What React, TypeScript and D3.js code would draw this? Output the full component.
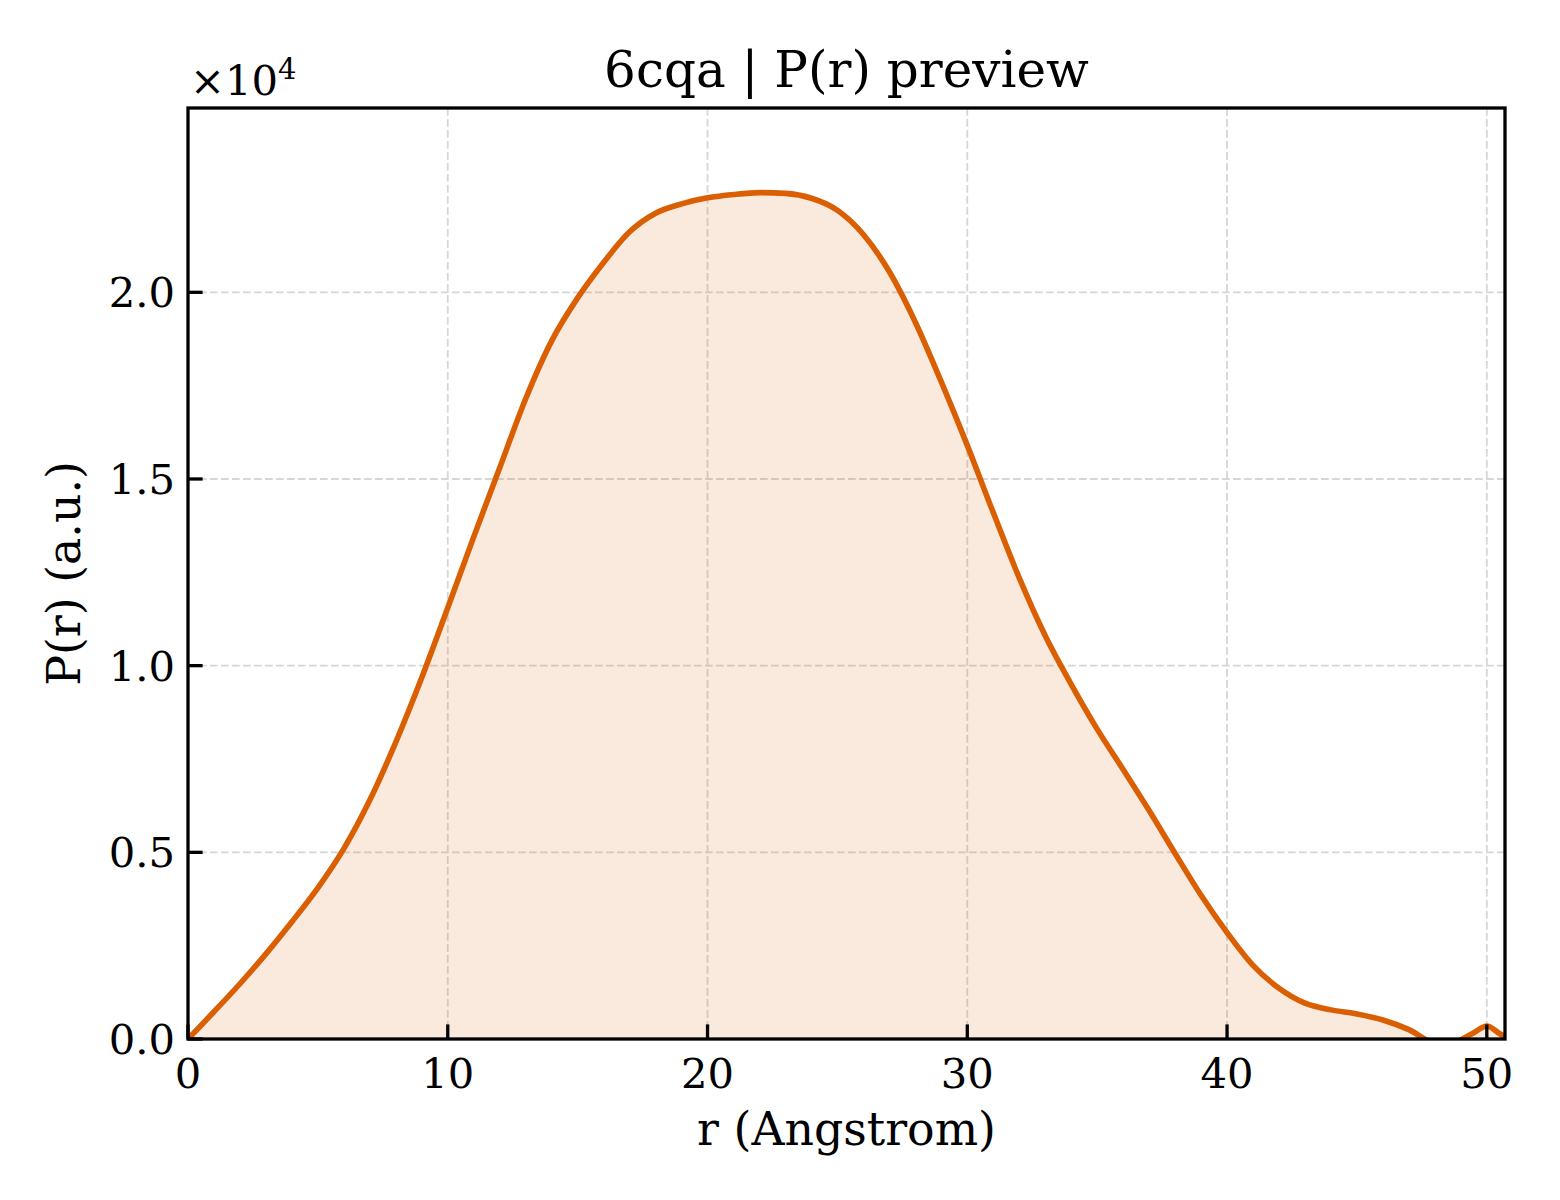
import React from 'react'
import * as d3 from 'd3'

const rValues = [
  0, 1, 2, 3, 4, 5, 6, 7, 8, 9, 10, 11, 12, 13, 14, 15, 16, 17, 18, 19, 20,
  21, 22, 23, 24, 25, 26, 27, 28, 29, 30, 31, 32, 33, 34, 35, 36, 37, 38, 39,
  40, 41, 42, 43, 44, 45, 46, 47, 48, 48.5, 49, 49.5, 50, 50.5, 50.7,
]
const prValues = [
  0, 730, 1480, 2280, 3140, 4050, 5100, 6400, 7950, 9680, 11550, 13450, 15300,
  17150, 18700, 19850, 20800, 21620, 22120, 22370, 22530, 22620, 22670, 22650,
  22520, 22200, 21550, 20550, 19200, 17600, 15900, 14100, 12350, 10800, 9500,
  8300, 7220, 6120, 4970, 3850, 2850, 1970, 1360, 960, 780, 670, 510, 250,
  -120, -150, -20, 170, 350, 140, 60,
]
const xTicks = [0, 10, 20, 30, 40, 50]
const yTicks = [0, 5000, 10000, 15000, 20000]

const TITLE = '6cqa | P(r) preview'
const X_LABEL = 'r (Angstrom)'
const Y_LABEL = 'P(r) (a.u.)'

const W = 1560
const H = 1200
const margin = { left: 188, right: 55, top: 108, bottom: 161 }
const LINE = '#d95f02'
const FONT = '"DejaVu Serif", serif'

export default function App() {
  const pts = rValues.map((r, i) => ({ r, v: prValues[i] }))

  const x = d3.scaleLinear().domain([0, 50.7]).range([margin.left, W - margin.right])
  const y = d3
    .scaleLinear()
    .domain([0, d3.max(prValues) * 1.1])
    .range([H - margin.bottom, margin.top])

  const line = d3
    .line<any>()
    .x((d) => x(d.r))
    .y((d) => y(d.v))
    .curve(d3.curveMonotoneX)
  const area = d3
    .area<any>()
    .x((d) => x(d.r))
    .y0(y(0))
    .y1((d) => y(d.v))
    .curve(d3.curveMonotoneX)

  const [x0, x1] = x.range()
  const [y0, y1] = y.range()
  const fmt = d3.format('.1f')

  return (
    <svg
      width={W}
      height={H}
      style={{ position: 'absolute', left: 0, top: 0, background: '#fff' }}
      fontFamily={FONT}
    >
      <defs>
        <clipPath id="plot">
          <rect x={x0} y={y1} width={x1 - x0} height={y0 - y1} />
        </clipPath>
      </defs>

      {/* grid */}
      <g stroke="#d6d6d6" strokeWidth={1.8} strokeDasharray="7.7,3.3">
        {xTicks.slice(1).map((t) => (
          <line key={'gx' + t} x1={x(t)} x2={x(t)} y1={y1} y2={y0} />
        ))}
        {yTicks.slice(1).map((t) => (
          <line key={'gy' + t} x1={x0} x2={x1} y1={y(t)} y2={y(t)} />
        ))}
      </g>

      <g clipPath="url(#plot)">
        <path d={area(pts)} fill={LINE} fillOpacity={0.13} />
        <path d={line(pts)} fill="none" stroke={LINE} strokeWidth={5.6} strokeLinejoin="round" />
      </g>

      {/* ticks, inward */}
      <g stroke="#000" strokeWidth={3.3}>
        {xTicks.map((t) => (
          <line key={'tx' + t} x1={x(t)} x2={x(t)} y1={y0} y2={y0 - 14.6} />
        ))}
        {yTicks.map((t) => (
          <line key={'ty' + t} x1={x0} x2={x0 + 14.6} y1={y(t)} y2={y(t)} />
        ))}
      </g>

      <rect
        x={x0}
        y={y1}
        width={x1 - x0}
        height={y0 - y1}
        fill="none"
        stroke="#000"
        strokeWidth={3.3}
      />

      <g fontSize={41.7} fill="#000">
        {xTicks.map((t) => (
          <text key={'lx' + t} x={x(t)} y={y0 + 49} textAnchor="middle">
            {t}
          </text>
        ))}
        {yTicks.map((t) => (
          <text key={'ly' + t} x={x0 - 13} y={y(t) + 15} textAnchor="end">
            {fmt(t / 1e4)}
          </text>
        ))}
        <text x={x0 + 2} y={95}>
          ×10
          <tspan fontSize={29} dy={-16}>
            4
          </tspan>
        </text>
      </g>

      <text x={(x0 + x1) / 2} y={87} textAnchor="middle" fontSize={50}>
        {TITLE}
      </text>
      <text x={(x0 + x1) / 2} y={1145} textAnchor="middle" fontSize={45.8}>
        {X_LABEL}
      </text>
      <text
        transform={`translate(80,${(y0 + y1) / 2}) rotate(-90)`}
        textAnchor="middle"
        fontSize={45.8}
      >
        {Y_LABEL}
      </text>
    </svg>
  )
}
